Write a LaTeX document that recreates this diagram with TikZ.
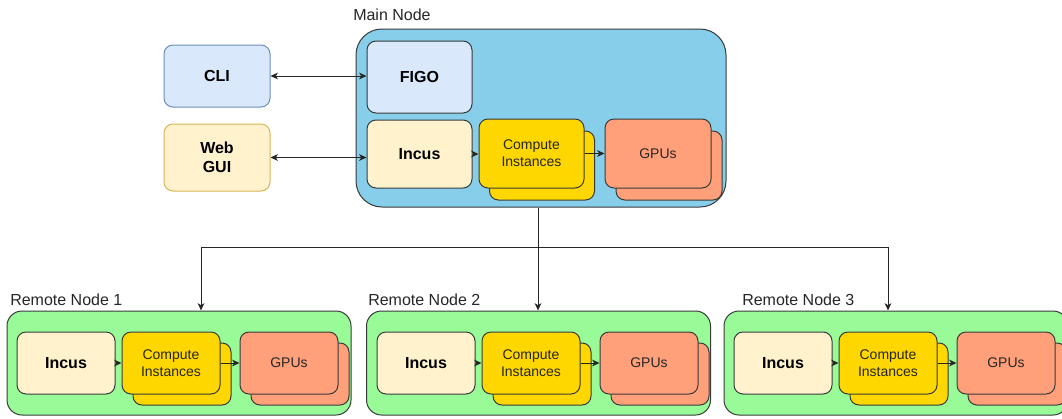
\documentclass[tikz,border=0pt]{standalone}
\usepackage{fontspec}
\setmainfont{Liberation Sans}
\usetikzlibrary{arrows.meta}
\definecolor{cliblue}{HTML}{DAE8FC}
\definecolor{cliedge}{HTML}{6C8EBF}
\definecolor{webyellow}{HTML}{FFF2CC}
\definecolor{webedge}{HTML}{D6B656}
\definecolor{mainblue}{HTML}{87CEEB}
\definecolor{remotegreen}{HTML}{98FB98}
\definecolor{computegold}{HTML}{FFD700}
\definecolor{gpusalmon}{HTML}{FFA07A}
\definecolor{edgegray}{HTML}{3A3A3A}

\begin{document}
\begin{tikzpicture}[x=0.75pt,y=-0.75pt]
    \tikzset{box/.style={draw=edgegray, line width=0.75pt, rounded corners=6.75pt, inner sep=0pt, text=black},
        bold/.style={box, font=\fontsize{12}{14.4}\selectfont\bfseries, align=center},
        plain/.style={box, font=\fontsize{10.5}{12.75}\selectfont, align=center, text=black!85},
        group/.style={draw=edgegray, line width=0.75pt, inner sep=0pt},
        caption/.style={anchor=west, inner sep=0pt, font=\fontsize{12}{14.4}\selectfont, text=black!85},
        arr/.style={-{Stealth[length=5.5pt,width=5pt,inset=1.5pt]}, line width=0.75pt, black!85},
        dblarr/.style={{Stealth[length=5.5pt,width=5pt,inset=1.5pt]}-{Stealth[length=5.5pt,width=5pt,inset=1.5pt]}, line width=0.75pt, black!85}}
    \clip (0,0) rectangle (1062,418);

    %Clients
    \node[bold, fill=cliblue, draw=cliedge, minimum width=79.5pt, minimum height=46.5pt]
        (cli) at (217,76) {CLI};
    \node[bold, fill=webyellow, draw=webedge, minimum width=79.5pt, minimum height=50.25pt]
        (web) at (217,157.5) {Web\\GUI};

    %Main Node
    \node[group, fill=mainblue, rounded corners=19.5pt, minimum width=277.5pt, minimum height=133.5pt]
        (main) at (541,118) {};
    \node[caption] (mainlbl) at (353,15) {Main Node};
    \node[bold, fill=cliblue, minimum width=78.75pt, minimum height=54pt]
        (figo) at (419.5,77) {FIGO};
    \node[bold, fill=webyellow, minimum width=78.75pt, minimum height=51pt]
        (incus) at (419.5,154) {Incus};
    \node[box, fill=computegold, minimum width=78.75pt, minimum height=51.75pt]
        (compback) at (542,165.5) {};
    \node[plain, fill=computegold, minimum width=78.75pt, minimum height=51.75pt]
        (comp) at (531.5,153.5) {Compute\\Instances};
    \node[box, fill=gpusalmon, minimum width=79.5pt, minimum height=51.75pt]
        (gpuback) at (669,165.5) {};
    \node[plain, fill=gpusalmon, minimum width=79.5pt, minimum height=51.75pt]
        (gpu) at (658,153.5) {GPUs};

    \draw[dblarr] (cli.east) -- (cli.east -| figo.west);
    \draw[dblarr] (web.east) -- (web.east -| incus.west);
    \draw[arr] (incus.east) -- (incus.east -| comp.west);
    \draw[arr] (comp.east) -- (comp.east -| gpu.west);

    %Remote Node 1
    \node[group, fill=remotegreen, rounded corners=11.25pt, minimum width=258pt, minimum height=78pt]
        (rone) at (179,363) {};
    \node[caption] (ronelbl) at (10,300) {Remote Node 1};
    \node[bold, fill=webyellow, minimum width=73.5pt, minimum height=46.5pt]
        (incusone) at (66,363) {Incus};
    \node[box, fill=computegold, minimum width=73.5pt, minimum height=46.5pt]
        (compbackone) at (182,374) {};
    \node[plain, fill=computegold, minimum width=73.5pt, minimum height=46.5pt]
        (compone) at (171,363) {Compute\\Instances};
    \node[box, fill=gpusalmon, minimum width=73.5pt, minimum height=46.5pt]
        (gpubackone) at (300,374) {};
    \node[plain, fill=gpusalmon, minimum width=73.5pt, minimum height=46.5pt]
        (gpuone) at (289,363) {GPUs};
    \draw[arr] (incusone.east) -- (compone.west);
    \draw[arr] (compone.east) -- (gpuone.west);

    %Remote Node 2
    \node[group, fill=remotegreen, rounded corners=11.25pt, minimum width=258pt, minimum height=78pt]
        (rtwo) at (538.5,363) {};
    \node[caption] (rtwolbl) at (368,300) {Remote Node 2};
    \node[bold, fill=webyellow, minimum width=73.5pt, minimum height=46.5pt]
        (incustwo) at (426,363) {Incus};
    \node[box, fill=computegold, minimum width=73.5pt, minimum height=46.5pt]
        (compbacktwo) at (542,374) {};
    \node[plain, fill=computegold, minimum width=73.5pt, minimum height=46.5pt]
        (comptwo) at (531,363) {Compute\\Instances};
    \node[box, fill=gpusalmon, minimum width=73.5pt, minimum height=46.5pt]
        (gpubacktwo) at (660,374) {};
    \node[plain, fill=gpusalmon, minimum width=73.5pt, minimum height=46.5pt]
        (gputwo) at (649,363) {GPUs};
    \draw[arr] (incustwo.east) -- (comptwo.west);
    \draw[arr] (comptwo.east) -- (gputwo.west);

    %Remote Node 3
    \node[group, fill=remotegreen, rounded corners=11.25pt, minimum width=258pt, minimum height=78pt]
        (rthree) at (896,363) {};
    \node[caption] (rthreelbl) at (742,300) {Remote Node 3};
    \node[bold, fill=webyellow, minimum width=73.5pt, minimum height=46.5pt]
        (incusthree) at (783,363) {Incus};
    \node[box, fill=computegold, minimum width=73.5pt, minimum height=46.5pt]
        (compbackthree) at (899,374) {};
    \node[plain, fill=computegold, minimum width=73.5pt, minimum height=46.5pt]
        (compthree) at (888,363) {Compute\\Instances};
    \node[box, fill=gpusalmon, minimum width=73.5pt, minimum height=46.5pt]
        (gpubackthree) at (1017,374) {};
    \node[plain, fill=gpusalmon, minimum width=73.5pt, minimum height=46.5pt]
        (gputhree) at (1006,363) {GPUs};
    \draw[arr] (incusthree.east) -- (compthree.west);
    \draw[arr] (compthree.east) -- (gputhree.west);

    %Verteilung
    \coordinate (split) at (538,247);
    \coordinate (toone) at (201,247);
    \coordinate (tothree) at (888,247);
    \draw[line width=0.75pt, black!85] (main.south -| split) -- (split);
    \draw[arr] (split) -- (split |- rtwo.north);
    \draw[arr] (toone) -- (toone |- rone.north);
    \draw[arr] (tothree) -- (tothree |- rthree.north);
    \draw[line width=0.75pt, black!85] (toone) -- (tothree);

\end{tikzpicture}
\end{document}
